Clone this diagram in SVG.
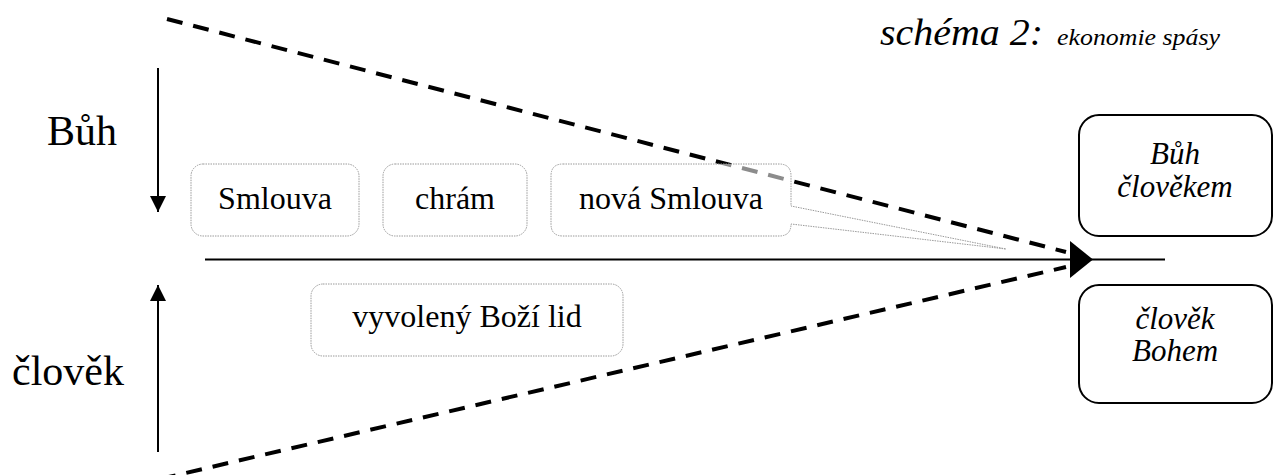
<svg xmlns="http://www.w3.org/2000/svg" width="1275" height="475" viewBox="0 0 1275 475" font-family="'Liberation Serif', 'Times New Roman', serif">
<style>
text{fill:#000;font-family:"Liberation Serif","Times New Roman",serif}
.lbl{font-size:42px}
.box{fill:#fff;fill-opacity:0.55;stroke:#9a9a9a;stroke-width:1;stroke-dasharray:1.5 1}
.bt{font-size:32px;text-anchor:middle}
.rb{fill:#fff;stroke:#000;stroke-width:2}
.it{font-size:31px;font-style:italic;text-anchor:middle}
.dash{stroke:#000;stroke-width:4;stroke-dasharray:16 11;fill:none}
.ax{stroke:#000;stroke-width:2;fill:none}
</style>
<defs>
<marker id="ah2" viewBox="0 0 16 16" refX="16" refY="8" markerWidth="16" markerHeight="16" orient="auto" markerUnits="userSpaceOnUse">
<path d="M0,0 L16,8 L0,16 Z" fill="#000"/>
</marker>
</defs>

<g id="title">
<text x="880" y="45" font-size="38" font-style="italic" textLength="163" lengthAdjust="spacingAndGlyphs">schéma 2:</text>
<text x="1057" y="45" font-size="24" font-style="italic" textLength="163" lengthAdjust="spacingAndGlyphs">ekonomie spásy</text>
</g>

<g id="connectors">
<line class="ax" x1="205" y1="259.5" x2="1165" y2="259.5"/>
<line class="ax" x1="158" y1="68" x2="158" y2="212" marker-end="url(#ah2)"/>
<line class="ax" x1="158" y1="452" x2="158" y2="285" marker-end="url(#ah2)"/>
<line class="dash" x1="167" y1="19" x2="1066" y2="252"/>
<line class="dash" x1="160" y1="479" x2="1066" y2="267"/>
<polygon points="1070,241 1093,259.5 1070,278" fill="#000"/>
</g>

<g id="label-buh"><text class="lbl" x="47" y="145">Bůh</text></g>
<g id="label-clovek"><text class="lbl" x="12" y="385">člověk</text></g>

<g id="smlouva">
<rect class="box" x="191" y="164" width="168" height="72" rx="12"/>
<text class="bt" x="275" y="209">Smlouva</text>
</g>
<g id="chram">
<rect class="box" x="383" y="164" width="144" height="72" rx="12"/>
<text class="bt" x="455" y="209">chrám</text>
</g>
<g id="nova-smlouva">
<path class="box" d="M563,164 H779 Q791,164 791,176 V206 L1006,249 L791,224 Q791,236 779,236 H563 Q551,236 551,224 V176 Q551,164 563,164 Z"/>
<text class="bt" x="671" y="209">nová Smlouva</text>
</g>
<g id="vyvoleny">
<rect class="box" x="311" y="284" width="312" height="72" rx="12"/>
<text class="bt" x="467" y="327">vyvolený Boží lid</text>
</g>

<g id="buh-clovekem">
<rect class="rb" x="1079" y="115" width="193" height="121" rx="20"/>
<text class="it" x="1175" y="164">Bůh</text>
<text class="it" x="1175" y="197">člověkem</text>
</g>
<g id="clovek-bohem">
<rect class="rb" x="1079" y="285" width="193" height="118" rx="20"/>
<text class="it" x="1175" y="329">člověk</text>
<text class="it" x="1175" y="361">Bohem</text>
</g>
</svg>
